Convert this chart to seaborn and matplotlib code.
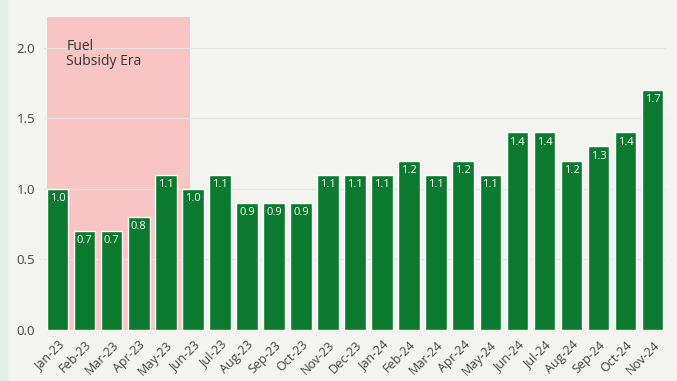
import matplotlib
matplotlib.use("Agg")
import matplotlib.pyplot as plt
import seaborn as sns
import pandas as pd
from matplotlib.patches import Rectangle

months = ["Jan-23", "Feb-23", "Mar-23", "Apr-23", "May-23", "Jun-23", "Jul-23",
          "Aug-23", "Sep-23", "Oct-23", "Nov-23", "Dec-23", "Jan-24", "Feb-24",
          "Mar-24", "Apr-24", "May-24", "Jun-24", "Jul-24", "Aug-24", "Sep-24",
          "Oct-24", "Nov-24"]
values = [1.0, 0.7, 0.7, 0.8, 1.1, 1.0, 1.1, 0.9, 0.9, 0.9, 1.1, 1.1, 1.1, 1.2,
          1.1, 1.2, 1.1, 1.4, 1.4, 1.2, 1.3, 1.4, 1.7]
yticks = [0.0, 0.5, 1.0, 1.5, 2.0]
era_label = "Fuel\nSubsidy Era"

df = pd.DataFrame({"month": months, "value": values})

sns.set_theme(style="white")
plt.rcParams["font.family"] = ["Open Sans", "DejaVu Sans"]

bg = "#f3f3ef"
fig = plt.figure(figsize=(6.77, 3.81), dpi=100, facecolor=bg)
fig.patches.append(Rectangle((0, 0), 0.011, 1, transform=fig.transFigure,
                             color="#e4efe8", zorder=0))
ax = fig.add_axes([0.065, 0.134, 0.919, 0.826])
ax.set_facecolor(bg)

# shaded subsidy period
ax.axvspan(-0.4, 4.88, ymax=2.22 / 2.23, color="#f9c4c4", zorder=0, lw=0)
ax.text(0.33, 2.06, era_label, fontsize=10, color="#333333", va="top", ha="left",
        linespacing=1.0)

for y in yticks[1:]:
    ax.axhline(y, color="#e4e4df", lw=0.8, zorder=0.5)

sns.barplot(data=df, x="month", y="value", color="#0b7a2e", saturation=1,
            width=0.8, ax=ax, zorder=2)

for i, v in enumerate(values):
    ax.annotate(f"{v:.1f}", (i, v), xytext=(0, -3), textcoords="offset points",
                ha="center", va="top", color="white", fontsize=8, zorder=3)

ax.set_xlim(-0.5, len(months) - 0.5)
ax.set_ylim(0, 2.23)
ax.set_yticks(yticks)
ax.set_yticklabels([f"{t:.1f}" for t in yticks], fontsize=9.5, color="#444444")
ax.set_xlabel("")
ax.set_ylabel("")
ax.tick_params(axis="x", labelsize=9, colors="#444444", length=0, pad=6)
ax.tick_params(axis="y", length=0, pad=6.5)
plt.setp(ax.get_xticklabels(), rotation=45, ha="right", rotation_mode="anchor")
for s in ax.spines.values():
    s.set_visible(False)

fig.savefig("out.png", dpi=100, facecolor=bg)
